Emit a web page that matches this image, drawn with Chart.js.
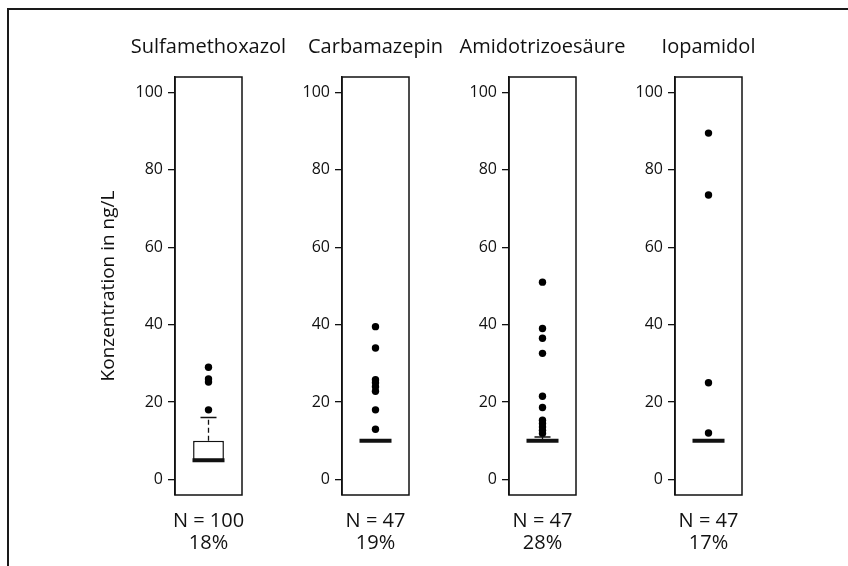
<!doctype html>
<html>

<head>
    <meta charset="UTF-8">
    <title>Konzentration</title>
    <script src="https://cdn.jsdelivr.net/npm/chart.js"></script>
    <style>
        body {
            margin: 0;
            background-color: #fff;
        }

        .rahmen {
            position: absolute;
            left: 7px;
            top: 8px;
            width: 841px;
            height: 558px;
            border-top: 2px solid #1a1a1a;
            border-left: 2px solid #1a1a1a;
        }

        canvas {
            position: absolute;
            left: 0;
            top: 0;
        }
    </style>
</head>

<body>
    <div class="rahmen"></div>
    <canvas id="p0" width="848" height="566"></canvas>
    <canvas id="p1" width="848" height="566"></canvas>
    <canvas id="p2" width="848" height="566"></canvas>
    <canvas id="p3" width="848" height="566"></canvas>

    <script>
        // Daten
        const substanzen = ['Sulfamethoxazol', 'Carbamazepin', 'Amidotrizoesäure', 'Iopamidol'];
        const nTexte = ['N = 100', 'N = 47', 'N = 47', 'N = 47'];
        const prozentTexte = ['18%', '19%', '28%', '17%'];
        const q1 = [5, 10, 10, 10];
        const median = [5, 10, 10, 10];
        const q3 = [10, 10, 10, 10];
        const whiskerOben = [16, 10, 11, 10];
        const ausreisser = [
            [18, 25.2, 26, 29],
            [13, 18, 22.8, 24, 25, 25.8, 34, 39.5],
            [11.9, 12.7, 13.6, 14.5, 15.3, 18.6, 21.5, 32.6, 36.5, 39, 51],
            [12, 25, 73.5, 89.5]
        ];
        const yTicks = [0, 20, 40, 60, 80, 100];
        const yTitel = 'Konzentration in ng/L';

        // Layout
        const schrift = '"Open Sans", "Noto Sans", sans-serif';
        const tinte = '#111';
        const achsenX = [175, 342, 509, 675];
        const panelBreite = 67;

        const panelPlugin = {
            id: 'panelPlugin',
            afterDraw(chart, args, opts) {
                const { ctx, chartArea } = chart;
                ctx.save();
                ctx.strokeStyle = tinte;
                ctx.lineWidth = 1.5;
                ctx.strokeRect(chartArea.left, chartArea.top, chartArea.width, chartArea.height);
                ctx.fillStyle = tinte;
                ctx.font = '20px ' + schrift;
                ctx.textAlign = 'center';
                ctx.textBaseline = 'middle';
                ctx.fillText(opts.text, (chartArea.left + chartArea.right) / 2, 47);
                ctx.restore();
            }
        };

        substanzen.forEach((name, i) => {
            var yBreite = i == 0 ? 78 : 40;
            var datasets = [];

            datasets.push({
                type: 'line',
                data: [{ x: name, y: median[i] }],
                showLine: false,
                pointStyle: 'line',
                pointRadius: 16,
                pointBorderWidth: 4,
                borderColor: tinte
            });

            if (whiskerOben[i] > q3[i]) {
                datasets.push({
                    type: 'line',
                    data: [{ x: name, y: whiskerOben[i] }],
                    showLine: false,
                    pointStyle: 'line',
                    pointRadius: 8,
                    pointBorderWidth: 1.5,
                    borderColor: tinte
                });
                datasets.push({
                    type: 'line',
                    data: [{ x: name, y: q3[i] }, { x: name, y: whiskerOben[i] }],
                    borderDash: [5, 3],
                    borderWidth: 1.3,
                    pointRadius: 0,
                    borderColor: tinte
                });
            }

            datasets.push({
                type: 'line',
                data: ausreisser[i].map(v => ({ x: name, y: v })),
                showLine: false,
                pointStyle: 'circle',
                pointRadius: 3.7,
                pointBorderWidth: 0,
                backgroundColor: '#000',
                borderColor: '#000'
            });

            if (q3[i] > q1[i]) {
                datasets.push({
                    type: 'bar',
                    data: [{ x: name, y: [q1[i], q3[i]] }],
                    backgroundColor: '#fff',
                    borderColor: tinte,
                    borderWidth: 1.5,
                    borderSkipped: false,
                    barPercentage: 0.46,
                    categoryPercentage: 1
                });
            }

            new Chart(document.getElementById('p' + i).getContext('2d'), {
                type: 'bar',
                data: { labels: [name], datasets: datasets },
                plugins: [panelPlugin],
                options: {
                    responsive: false,
                    animation: false,
                    events: [],
                    layout: {
                        padding: {
                            left: achsenX[i] - yBreite,
                            right: 848 - achsenX[i] - panelBreite,
                            top: 77,
                            bottom: 0
                        }
                    },
                    plugins: {
                        legend: { display: false },
                        tooltip: { enabled: false },
                        panelPlugin: { text: name }
                    },
                    scales: {
                        x: {
                            afterFit: s => { s.height = 71; },
                            grid: { display: false, drawTicks: false },
                            border: { display: false },
                            ticks: {
                                autoSkip: false,
                                maxRotation: 0,
                                minRotation: 0,
                                padding: 15,
                                color: tinte,
                                font: { family: schrift, size: 20, lineHeight: 1.1 },
                                callback: () => [nTexte[i], prozentTexte[i]]
                            }
                        },
                        y: {
                            min: -4,
                            max: 104,
                            afterBuildTicks: s => { s.ticks = yTicks.map(v => ({ value: v })); },
                            afterFit: s => { s.width = yBreite; },
                            grid: { drawOnChartArea: false, tickLength: 7, color: tinte, lineWidth: 1.3 },
                            border: { color: tinte, width: 1.5 },
                            ticks: {
                                padding: 5,
                                color: tinte,
                                font: { family: schrift, size: 16 }
                            },
                            title: {
                                display: i == 0,
                                text: yTitel,
                                color: tinte,
                                padding: { top: 0, bottom: 0 },
                                font: { family: schrift, size: 19 }
                            }
                        }
                    }
                }
            });
        });
    </script>
</body>

</html>
